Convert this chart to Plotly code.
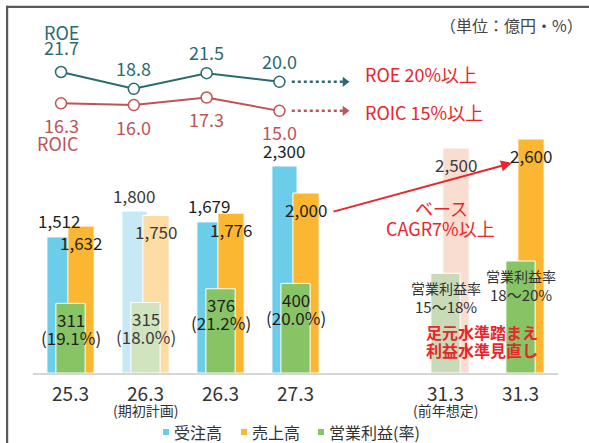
import plotly.graph_objects as go

# ---------------- data ----------------
categories = ["25.3", "26.3", "26.3", "27.3", "31.3", "31.3"]
sub_labels = ["", "(期初計画)", "", "", "(前年想定)", ""]
slots = [0, 1, 2, 3, 5, 6]                      # slot 4 is an empty gap
is_plan = [False, True, False, False, True, False]

orders = [1512, 1800, 1679, 2300, None, None]     # 受注高
sales = [1632, 1750, 1776, 2000, 2500, 2600]      # 売上高
op_profit = [311, 315, 376, 400, 445, 500]        # 営業利益
op_rate = ["(19.1%)", "(18.0%)", "(21.2%)", "(20.0%)", None, None]
op_rate_target = [None, None, None, None, "15～18%", "18～20%"]

roe = [21.7, 18.8, 21.5, 20.0]
roic = [16.3, 16.0, 17.3, 15.0]
roe_target = 20.0
roic_target = 15.0

# ---------------- style ----------------
FONT = "Noto Sans CJK JP"
W, H = 589, 443
PL, PR, PT, PB = 33, 31, 10, 70          # plot area margins (px)
BLUE, BLUE_P = "#6ccdeb", "#c6e9f5"
ORANGE, ORANGE_P, SALMON = "#fbb632", "#fddca6", "#f9ddd0"
GREEN, GREEN_P, GREEN_P2 = "#87c466", "#d0e4c0", "#c9dab8"
ROE_C, ROIC_C, RED = "#2b6a72", "#c05355", "#e8262b"
TXT = "#1e1e1e"
TXT_P = "#3a3a3a"

def px(x):
    return (x - PL) / (W - PL - PR)

def py(y):
    return (H - PB - y) / (H - PT - PB)

blue_colors = [BLUE_P if p else BLUE for p in is_plan]
orange_colors = [ORANGE, ORANGE_P, ORANGE, ORANGE, SALMON, ORANGE]
green_colors = [GREEN, GREEN_P, GREEN, GREEN, GREEN_P2, GREEN]

OFF_B, OFF_O = -0.147, 0.14
xb = [s + OFF_B for s in slots]
xo = [s + OFF_O for s in slots]

fig = go.Figure()
fig.add_trace(go.Bar(x=xb, y=orders, width=0.335, marker=dict(color=blue_colors, line=dict(color="white", width=1)),
                     name="受注高", showlegend=False, hoverinfo="skip"))
fig.add_trace(go.Bar(x=xo, y=sales, width=0.35, marker=dict(color=orange_colors, line=dict(color="white", width=1)),
                     name="売上高", showlegend=False, hoverinfo="skip"))
fig.add_trace(go.Bar(x=slots, y=op_profit, width=0.39, yaxis="y2",
                     marker=dict(color=green_colors, line=dict(color="white", width=1)),
                     name="営業利益(率)", showlegend=False, hoverinfo="skip"))

# ROE / ROIC lines on their own axes
idx = list(range(len(roe)))
fig.add_trace(go.Scatter(x=idx, y=roe, xaxis="x2", yaxis="y3", mode="lines+markers",
                         line=dict(color=ROE_C, width=2),
                         marker=dict(size=11, color="white", line=dict(color=ROE_C, width=1.5)),
                         name="ROE", showlegend=False, hoverinfo="skip"))
fig.add_trace(go.Scatter(x=idx, y=roic, xaxis="x2", yaxis="y3", mode="lines+markers",
                         line=dict(color=ROIC_C, width=2),
                         marker=dict(size=11, color="white", line=dict(color=ROIC_C, width=1.5)),
                         name="ROIC", showlegend=False, hoverinfo="skip"))
ARROW_END = 3.9
for val, col in [(roe_target, ROE_C), (roic_target, ROIC_C)]:
    fig.add_trace(go.Scatter(x=[idx[-1] + 0.17, ARROW_END], y=[val, val], xaxis="x2", yaxis="y3",
                             mode="lines", line=dict(color=col, width=2.5, dash="dot"),
                             showlegend=False, hoverinfo="skip"))
    fig.add_trace(go.Scatter(x=[ARROW_END], y=[val], xaxis="x2", yaxis="y3", mode="markers",
                             marker=dict(symbol="triangle-right", size=9, color=col),
                             showlegend=False, hoverinfo="skip"))

ann = []
# bar labels
for i, s in enumerate(slots):
    col = TXT_P if is_plan[i] else TXT
    if orders[i] is not None:
        ann.append(dict(x=xb[i], y=orders[i], xref="x", yref="y", text=f"{orders[i]:,}", showarrow=False,
                        yshift=16, font=dict(size=17, color=col)))
    ann.append(dict(x=xo[i], y=sales[i], xref="x", yref="y", text=f"{sales[i]:,}", showarrow=False,
                    yshift=-16, font=dict(size=17, color=col)))
    if op_rate[i] is not None:
        ann.append(dict(x=s, y=op_profit[i], xref="x", yref="y2", text=f"{op_profit[i]}", showarrow=False,
                        yshift=-16, font=dict(size=17, color=col)))
        ann.append(dict(x=s, y=op_profit[i], xref="x", yref="y2", text=op_rate[i], showarrow=False,
                        yshift=-34, font=dict(size=17, color=col)))
    if op_rate_target[i] is not None:
        ann.append(dict(x=s, y=op_profit[i], xref="x", yref="y2", text="営業利益率", showarrow=False,
                        yshift=-15, font=dict(size=14, color="#333333")))
        ann.append(dict(x=s, y=op_profit[i], xref="x", yref="y2", text=op_rate_target[i], showarrow=False,
                        yshift=-33, font=dict(size=15, color="#333333")))
    if sub_labels[i]:
        ann.append(dict(x=s, y=0, xref="x", yref="y", text=sub_labels[i], showarrow=False,
                        yshift=-37, font=dict(size=14, color="#333333")))

# line labels
for i, v in enumerate(roe):
    ann.append(dict(x=i, y=v, xref="x2", yref="y3", text=f"{v:.1f}", showarrow=False,
                    yshift=25 if i == 0 else 21, font=dict(size=18, color=ROE_C)))
for i, v in enumerate(roic):
    ann.append(dict(x=i, y=v, xref="x2", yref="y3", text=f"{v:.1f}", showarrow=False,
                    yshift=-21.5, font=dict(size=18, color=ROIC_C)))
ann.append(dict(x=0, y=roe[0], xref="x2", yref="y3", text="ROE", showarrow=False, yshift=40,
                font=dict(size=18, color=ROE_C)))
ann.append(dict(x=0, y=roic[0], xref="x2", yref="y3", text="ROIC", showarrow=False, yshift=-40, xshift=-3,
                font=dict(size=18, color=ROIC_C)))
ann.append(dict(x=4.15, y=roe_target, xref="x2", yref="y3", text="ROE 20%以上", showarrow=False,
                xanchor="left", yshift=8, font=dict(size=18, color=RED)))
ann.append(dict(x=4.15, y=roic_target, xref="x2", yref="y3", text="ROIC 15%以上", showarrow=False,
                xanchor="left", yshift=-1, font=dict(size=18, color=RED)))

def paper_text(x, y, text, size, color, xanchor="center"):
    return dict(x=px(x), y=py(y), xref="paper", yref="paper", text=text, showarrow=False,
                xanchor=xanchor, yanchor="middle", font=dict(size=size, color=color))

# red annotations
ann.append(paper_text(441, 208, "ベース", 18, RED))
ann.append(paper_text(440, 228, "CAGR7%以上", 18, RED))
ann.append(paper_text(482, 332, "<b>足元水準踏まえ</b>", 16, RED))
ann.append(paper_text(482, 350, "<b>利益水準見直し</b>", 16, RED))
ann.append(dict(x=px(512), y=py(163), xref="paper", yref="paper", ax=-180, ay=49, text="", showarrow=True,
                arrowhead=2, arrowsize=1.1, arrowwidth=2, arrowcolor=RED, standoff=0))

# unit
ann.append(paper_text(585, 25, "（単位：億円・%）", 16, "#444444", xanchor="right"))

# legend (manual)
legend_items = [("受注高", BLUE, 166), ("売上高", ORANGE, 244), ("営業利益(率)", GREEN, 321)]
shapes = []
for name, col, cx in legend_items:
    shapes.append(dict(type="rect", xref="paper", yref="paper", x0=px(cx - 3), x1=px(cx + 3),
                       y0=py(435), y1=py(429), fillcolor=col, line=dict(width=0)))
    ann.append(paper_text(cx + 6, 432, name, 16, "#333333", xanchor="left"))

# frame (filled thin rectangles)
shapes.append(dict(type="rect", xref="paper", yref="paper", x0=px(6), x1=px(589), y0=py(8), y1=py(5.8),
                   fillcolor="#5a5a5a", line=dict(width=0), layer="above"))
shapes.append(dict(type="rect", xref="paper", yref="paper", x0=px(6), x1=px(8.2), y0=py(443), y1=py(5.8),
                   fillcolor="#5a5a5a", line=dict(width=0), layer="above"))

plot_h = H - PT - PB
fig.update_layout(
    width=W, height=H,
    margin=dict(l=PL, r=PR, t=PT, b=PB),
    paper_bgcolor="white", plot_bgcolor="white",
    barmode="overlay",
    font=dict(family=FONT, color=TXT),
    xaxis=dict(range=[-0.5, 6.5], tickvals=slots, ticktext=categories, showgrid=False, zeroline=False,
               showline=True, linecolor="#d6d6d6", linewidth=1.5, ticks="", ticklabelstandoff=3,
               tickfont=dict(size=19, color="#333333")),
    xaxis2=dict(range=[-0.385, 6.827], overlaying="x", visible=False),
    yaxis=dict(range=[0, plot_h / 0.09], visible=False),
    yaxis2=dict(range=[0, plot_h / 0.224], overlaying="y", visible=False),
    yaxis3=dict(range=[21.7 - (H - PB - 72) / 5.8, 21.7 + (72 - PT) / 5.8], overlaying="y", anchor="x2",
                visible=False),
    annotations=ann, shapes=shapes,
)

fig.write_html("out.html", config={"displayModeBar": False},
               post_script="document.body.style.margin='0';document.body.style.overflow='hidden';")
